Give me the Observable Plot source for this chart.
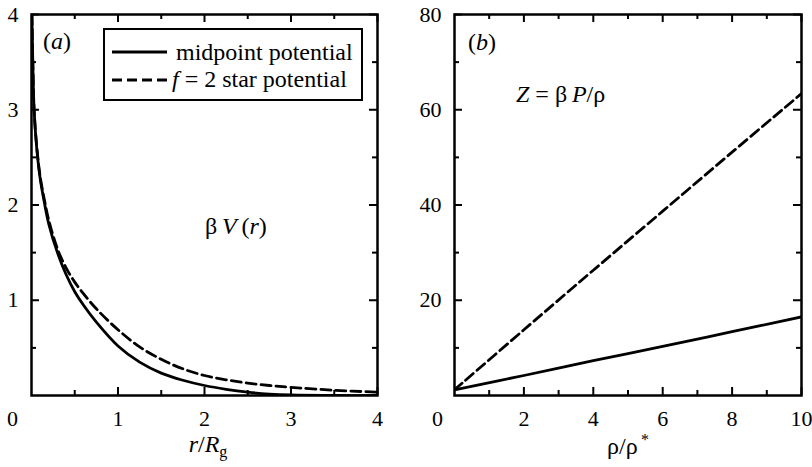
<!DOCTYPE html>
<html><head><meta charset="utf-8">
<script src="https://cdn.jsdelivr.net/npm/d3@7"></script>
<script src="https://cdn.jsdelivr.net/npm/@observablehq/plot@0.6"></script>
<style>
body{margin:0;background:#fff;}
#wrap{position:relative;width:812px;height:467px;font-family:"Liberation Serif","Times New Roman",serif;color:#000;overflow:hidden;background:#fff}
.p{position:absolute;top:0}
.t{position:absolute;font-size:24px;line-height:24px;white-space:nowrap}
.c{transform:translateX(-50%)}
#legend{position:absolute;left:103px;top:28px;width:256px;height:69px;border:2.5px solid #000;background:#fff}
#legend svg{position:absolute;left:0;top:0}
sub{font-size:16px;vertical-align:-5px;line-height:0}
sup{font-size:16px;vertical-align:9px;line-height:0}
</style></head><body><div id="wrap"></div>
<script>
// ---- Panel (a): βV(r) vs r/R_g ----
const rA = [0.005, 0.015, 0.03, 0.06, 0.1, 0.15, 0.2, 0.3, 0.4, 0.5, 0.6, 0.75, 1.0, 1.25, 1.5, 1.75, 2.0, 2.25, 2.5, 2.75, 3.0, 3.5, 4.0];
const vMidpoint = [4.0, 3.5, 3.0, 2.6, 2.28, 2.02, 1.8, 1.5, 1.27, 1.09, 0.95, 0.77, 0.52, 0.35, 0.235, 0.16, 0.105, 0.065, 0.035, 0.015, 0.005, 0.0, 0.0];
const vStar = [4.0, 3.5, 3.0, 2.62, 2.3, 2.05, 1.84, 1.54, 1.34, 1.19, 1.07, 0.91, 0.69, 0.51, 0.38, 0.28, 0.21, 0.165, 0.13, 0.105, 0.086, 0.055, 0.035];
const xTicksA = [1, 2, 3, 4];
const xMinorA = [0.5, 1.5, 2.5, 3.5];
const yTicksA = [1, 2, 3, 4];
const yMinorA = [0.5, 1.5, 2.5, 3.5];

// ---- Panel (b): Z = βP/ρ vs ρ/ρ* ----
const rho = [0, 2, 4, 6, 8, 10];
const zMidpoint = [1.2, 4.2, 7.3, 10.3, 13.4, 16.5];
const zStar = [1.2, 13.8, 26.3, 38.7, 51.1, 63.4];
const xTicksB = [2, 4, 6, 8, 10];
const xMinorB = [1, 3, 5, 7, 9];
const yTicksB = [20, 40, 60, 80];
const yMinorB = [10, 30, 50, 70];

const seriesNames = ["midpoint potential", "f = 2 star potential"];

const FONT = '"Liberation Serif","Times New Roman",serif';
const H = 467, W = 406, MT = 14, MB = 72;
const fmt = d => String(d);

function panel({xDomain, yDomain, xT, xM, yT, yM, ml, mr, dataMid, dataStar, xKey, yKey, zeroDx}) {
  const iw = W - ml - mr, ih = H - MT - MB;
  const maj = 8, mnr = 5;
  return Plot.plot({
    width: W, height: H,
    marginLeft: ml, marginRight: mr, marginTop: MT, marginBottom: MB,
    x: {domain: xDomain}, y: {domain: yDomain},
    style: {fontFamily: FONT, background: "transparent", color: "#000"},
    marks: [
      Plot.line(dataMid, {x: xKey, y: yKey, curve: "catmull-rom", stroke: "#000", strokeWidth: 2.8, clip: true}),
      Plot.line(dataStar, {x: xKey, y: yKey, curve: "catmull-rom", stroke: "#000", strokeWidth: 2.8, strokeDasharray: "10,5", clip: true}),
      // inward ticks: bottom/top
      Plot.tickX(xT, {x: d => d, insetTop: ih - maj, strokeWidth: 2}),
      Plot.tickX(xT, {x: d => d, insetBottom: ih - maj, strokeWidth: 2}),
      Plot.tickX(xM, {x: d => d, insetTop: ih - mnr, strokeWidth: 2}),
      Plot.tickX(xM, {x: d => d, insetBottom: ih - mnr, strokeWidth: 2}),
      // inward ticks: left/right
      Plot.tickY(yT, {y: d => d, insetRight: iw - maj, strokeWidth: 2}),
      Plot.tickY(yT, {y: d => d, insetLeft: iw - maj, strokeWidth: 2}),
      Plot.tickY(yM, {y: d => d, insetRight: iw - mnr, strokeWidth: 2}),
      Plot.tickY(yM, {y: d => d, insetLeft: iw - mnr, strokeWidth: 2}),
      Plot.frame({stroke: "#000", strokeWidth: 2.5}),
      Plot.axisX(xT, {tickSize: 0, tickPadding: 15, fontSize: 22, label: null, tickFormat: fmt}),
      Plot.axisX([0], {tickSize: 0, tickPadding: 15, fontSize: 22, label: null, dx: zeroDx, tickFormat: fmt}),
      Plot.axisY(yT, {tickSize: 0, tickPadding: 13, fontSize: 22, label: null, tickFormat: fmt})
    ]
  });
}

const dataA_mid = rA.map((r, i) => ({r, v: vMidpoint[i], s: seriesNames[0]}));
const dataA_star = rA.map((r, i) => ({r, v: vStar[i], s: seriesNames[1]}));
const dataB_mid = rho.map((p, i) => ({p, z: zMidpoint[i], s: seriesNames[0]}));
const dataB_star = rho.map((p, i) => ({p, z: zStar[i], s: seriesNames[1]}));

const wrap = document.getElementById("wrap");

const pa = panel({xDomain: [0, 4], yDomain: [0, 4], xT: xTicksA, xM: xMinorA, yT: yTicksA, yM: yMinorA,
  ml: 31, mr: 29, dataMid: dataA_mid, dataStar: dataA_star, xKey: "r", yKey: "v", zeroDx: -19});
const pb = panel({xDomain: [0, 10], yDomain: [0, 80], xT: xTicksB, xM: xMinorB, yT: yTicksB, yM: yMinorB,
  ml: 48, mr: 11, dataMid: dataB_mid, dataStar: dataB_star, xKey: "p", yKey: "z", zeroDx: -17});

const da = document.createElement("div"); da.className = "p"; da.style.left = "0px"; da.appendChild(pa); wrap.appendChild(da);
const db = document.createElement("div"); db.className = "p"; db.style.left = "406px"; db.appendChild(pb); wrap.appendChild(db);

function label(html, left, top, center) {
  const d = document.createElement("div");
  d.className = "t" + (center ? " c" : "");
  d.style.left = left + "px"; d.style.top = top + "px";
  d.innerHTML = html;
  wrap.appendChild(d);
  return d;
}
label("(<i>a</i>)", 43, 29);
label("(<i>b</i>)", 468, 30);
label("β&thinsp;<i>V</i>&thinsp;(<i>r</i>)", 205, 214);
label("<i>Z</i> = β&thinsp;<i>P</i>/ρ", 516, 82);
label("<i>r</i>/<i>R</i><sub>g</sub>", 208, 432, true);
label("ρ/ρ<sup>&thinsp;*</sup>", 628, 434, true);

// legend (inside panel a)
const lg = document.createElement("div"); lg.id = "legend";
lg.innerHTML = `<svg width="256" height="69"><line x1="7" x2="62" y1="22" y2="22" stroke="#000" stroke-width="2.8"/><line x1="7" x2="62" y1="50" y2="50" stroke="#000" stroke-width="2.8" stroke-dasharray="10,5"/></svg>`;
wrap.appendChild(lg);
label("midpoint potential", 176, 40);
label("<i>f</i> = 2 star potential", 172, 67);
</script></body></html>
